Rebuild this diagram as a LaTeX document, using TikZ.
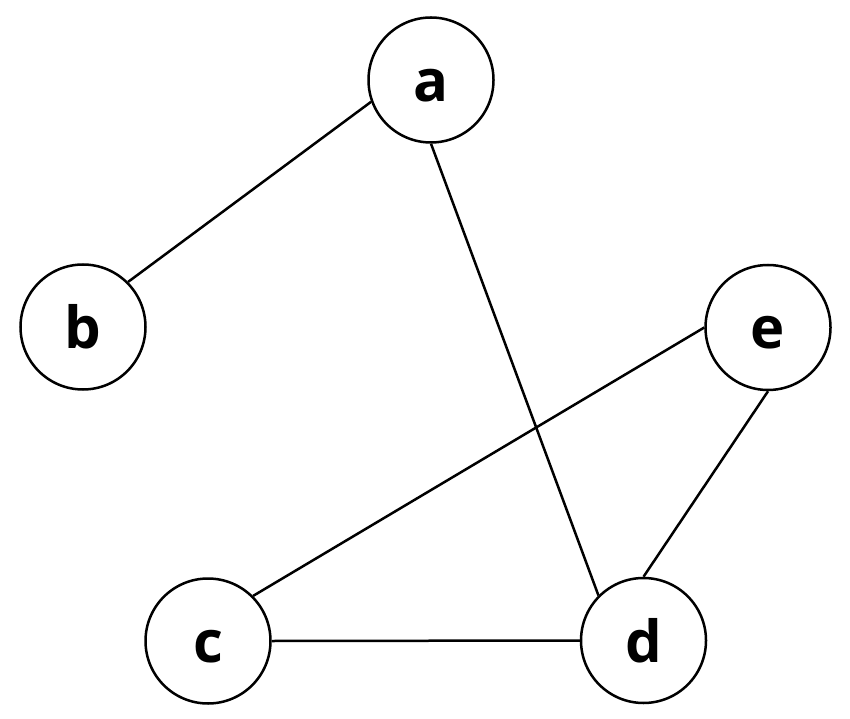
\documentclass[tikz,border=0pt]{standalone}
\usepackage{fontspec}
\setmainfont{Open Sans}
\begin{document}
\begin{tikzpicture}[x=1pt,y=1pt,
  vertex/.style={circle,draw,line width=2.5pt,minimum size=125pt,inner sep=0pt,
    text height=43pt,text depth=0pt,
    font=\fontsize{58}{60}\selectfont\bfseries},
  edge/.style={line width=2.5pt}]
\useasboundingbox (0,0) rectangle (850,718);
\node[vertex] (a) at (431,638) {a};
\node[vertex] (b) at (83,391) {b};
\node[vertex] (c) at (208,77) {c};
\node[vertex] (d) at (643.5,77.5) {d};
\node[vertex] (e) at (768,390.5) {e};
\draw[edge] (a.200) -- (b.north east);
\draw[edge] (a.south) -- (d.north west);
\draw[edge] (e.west) -- (c.north east);
\draw[edge] (e.south) -- (d.north);
\draw[edge] (c.east) -- (d.west);
\end{tikzpicture}
\end{document}
